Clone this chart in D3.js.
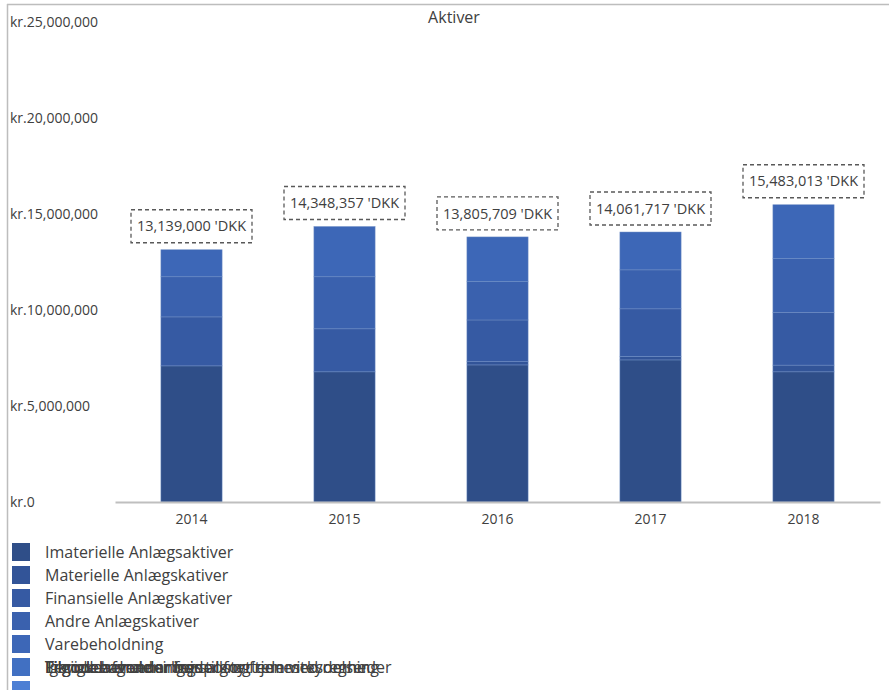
<!DOCTYPE html>
<html>
<head>
<meta charset="utf-8">
<script src="https://cdn.jsdelivr.net/npm/d3@7/dist/d3.min.js"></script>
<style>
  html, body { margin: 0; padding: 0; background: #fff; }
  svg { display: block; font-family: "Open Sans", "DejaVu Sans", sans-serif; }
</style>
</head>
<body>
<svg id="chart" width="889" height="690"></svg>
<script>
const title = "Aktiver";
const years = ["2014", "2015", "2016", "2017", "2018"];
const seriesNames = [
  "Imaterielle Anlægsaktiver",
  "Materielle Anlægskativer",
  "Finansielle Anlægskativer",
  "Andre Anlægskativer",
  "Varebeholdning",
  "Tilgodehavender fra salg og tjenesteydelser",
  "Igangværende arbejder for fremmed regning",
  "Tilgodehavender hos tilknyttede virksomheder",
  "Periodeafgrænsningsposter",
  "Likvide beholdninger"
];
const imaterielle = [7090000, 6780000, 7140000, 7400000, 6780000];
const materielle  = [0, 0, 170000, 180000, 350000];
const finansielle = [2550000, 2240000, 2170000, 2480000, 2750000];
const andre       = [2090000, 2710000, 2000000, 2030000, 2800000];
const varebeh     = [1409000, 2618357, 2325709, 1971717, 2803013];
const tilgSalg    = [0, 0, 0, 0, 0];
const igang       = [0, 0, 0, 0, 0];
const tilgTilkn   = [0, 0, 0, 0, 0];
const periode     = [0, 0, 0, 0, 0];
const likvide     = [0, 0, 0, 0, 0];
const totals = [13139000, 14348357, 13805709, 14061717, 15483013];
const yTicks = [0, 5000000, 10000000, 15000000, 20000000, 25000000];
const seriesColors = ["#2f4e88", "#325498", "#365aa3", "#3a61ae", "#3d67b7", "#4170c2", "#4474c8", "#4778cc", "#4a7bd0", "#4d7fd4"];

const seriesValues = [imaterielle, materielle, finansielle, andre, varebeh, tilgSalg, igang, tilgTilkn, periode, likvide];
const table = years.map((yr, i) => {
  const row = { year: yr };
  seriesNames.forEach((n, s) => row[n] = seriesValues[s][i]);
  return row;
});

const svg = d3.select("#chart");

// frame
svg.append("line").attr("x1", 7).attr("x2", 889).attr("y1", 4.5).attr("y2", 4.5)
  .attr("stroke", "#bdbdbd").attr("stroke-width", 1.5);
svg.append("line").attr("x1", 7.5).attr("x2", 7.5).attr("y1", 4).attr("y2", 690)
  .attr("stroke", "#bdbdbd").attr("stroke-width", 1.5);

const x = d3.scaleBand().domain(years).range([115, 880]).paddingInner(0.6).paddingOuter(0.3);
const y = d3.scaleLinear().domain([0, 25000000]).range([502, 22]);

// title
svg.append("text").attr("x", 454).attr("y", 23).attr("text-anchor", "middle")
  .attr("font-size", 16).attr("fill", "#404040").text(title);

// y axis labels (left aligned)
const fmt = d3.format(",");
svg.append("g").selectAll("text").data(yTicks).join("text")
  .attr("x", 10).attr("y", d => y(d)).attr("dy", "0.35em")
  .attr("font-size", 14).attr("fill", "#404040")
  .text(d => "kr." + fmt(d));

// stacked bars
const stack = d3.stack().keys(seriesNames)(table);
const gBars = svg.append("g");
stack.forEach((layer, s) => {
  gBars.append("g").attr("fill", seriesColors[s])
    .selectAll("rect").data(layer).join("rect")
    .attr("x", d => x(d.data.year))
    .attr("width", x.bandwidth())
    .attr("y", d => y(d[1]))
    .attr("height", d => Math.max(0, y(d[0]) - y(d[1])))
    .attr("stroke", "#6f8fc4").attr("stroke-width", 0.6).attr("stroke-opacity", d => (d[1] - d[0]) > 0 ? 0.8 : 0);
});

// x axis line
const xAxis = d3.axisBottom(x).tickSize(0).tickPadding(12);
const gx = svg.append("g").attr("transform", `translate(0,${y(0)})`).call(xAxis);
gx.select(".domain").attr("stroke", "#bfbfbf").attr("stroke-width", 2);
gx.selectAll("text").attr("font-size", 14).attr("fill", "#404040")
  .attr("font-family", "\"Open Sans\", sans-serif");

// data labels
const lbl = svg.append("g");
years.forEach((yr, i) => {
  const cx = x(yr) + x.bandwidth() / 2;
  const top = y(totals[i]);
  const h = 33, w = 121;
  const by = top - 7 - h;
  lbl.append("rect").attr("x", cx - w / 2).attr("y", by).attr("width", w).attr("height", h)
    .attr("fill", "#fff").attr("stroke", "#595959").attr("stroke-width", 1.3)
    .attr("stroke-dasharray", "4,3");
  lbl.append("text").attr("x", cx).attr("y", by + h / 2).attr("dy", "0.35em")
    .attr("text-anchor", "middle").attr("font-size", 14.5).attr("fill", "#404040")
    .text(fmt(totals[i]) + " 'DKK");
});

// legend (overflowing entries collapse onto last visible text row, as in the original)
const leg = svg.append("g");
seriesNames.forEach((n, i) => {
  const row = Math.min(i, 6);
  const textRow = Math.min(i, 5);
  leg.append("rect").attr("x", 12).attr("y", 543 + row * 23).attr("width", 18).attr("height", 18)
    .attr("fill", seriesColors[i]);
  leg.append("text").attr("x", 45).attr("y", 552 + textRow * 23).attr("dy", "0.35em")
    .attr("font-size", 16).attr("fill", "#404040").text(n);
});
</script>
</body>
</html>
